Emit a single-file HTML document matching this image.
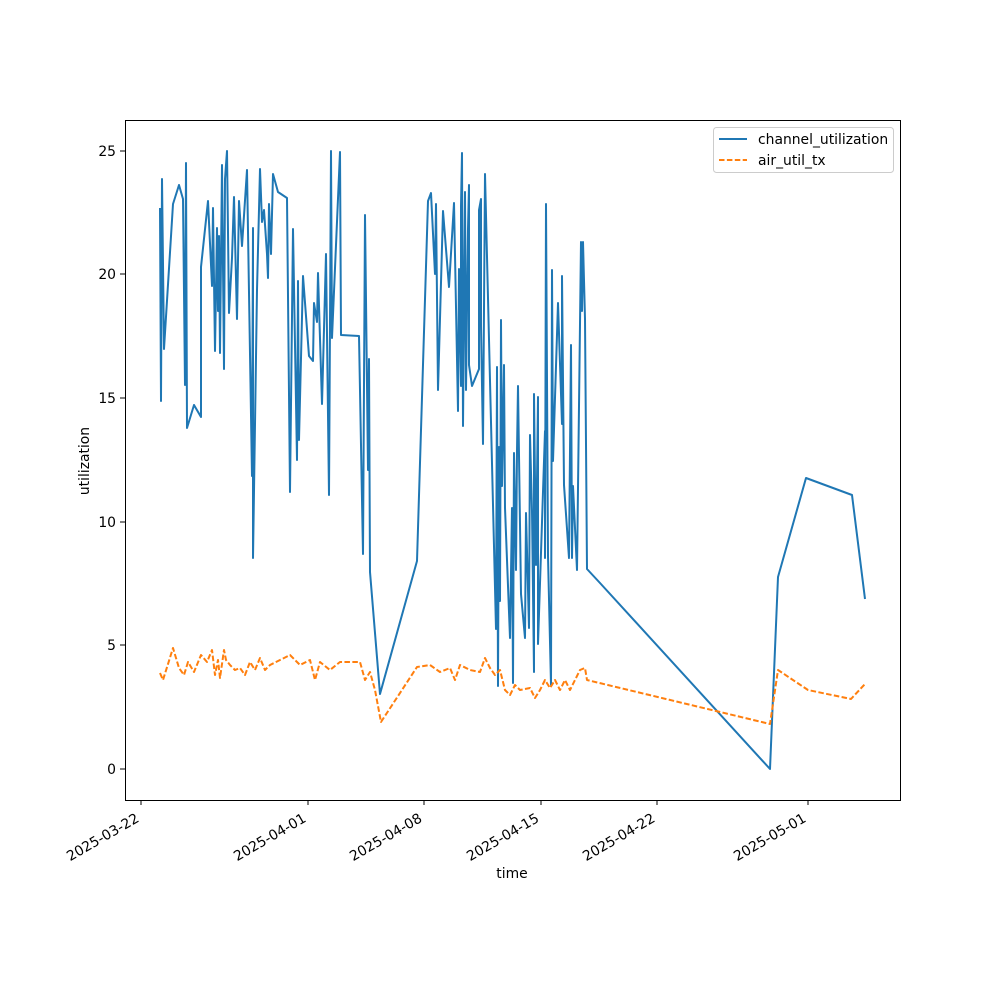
<!DOCTYPE html>
<html><head><meta charset="utf-8"><style>body{margin:0;background:#fff}svg{display:block}text{font-family:"DejaVu Sans","Liberation Sans",sans-serif;font-size:13.9px;fill:#000}</style></head><body>
<svg width="1000" height="1000" viewBox="0 0 1000 1000">
<rect width="1000" height="1000" fill="#fff"/>
<polyline fill="none" stroke="#1f77b4" stroke-width="2" stroke-linejoin="round" points="160,208 161,401 162,179 164,349 173,204 179,185 183,199 185,385 186,163 187,428 194,405 201,417 201,267 208,201 212,286 213,208 215,351 217,228 218,311 219,236 220,353 222,165 224,369 225,179 227,151 229,313 232,258 234,197 237,319 239,201 242,246 247,170 252,476 253,228 253,558 257,290 260,169 262,222 264,210 267,254 268,278 269,204 271,254 273,174 278,192 287,198 290,492 293,229 297,460 298,281 299,440 303,276 309,356 313,361 314,303 317,322 318,273 322,404 326,254 329,495 331,151 332,338 340,152 341,335 359,336 363,554 365,215 368,470 369,359 370,572 380,694 417,561 428,201 431,193 435,274 436,204 438,390 443,211 449,287 454,203 458,411 459,269 461,386 461,206 462,153 463,426 465,192 466,390 468,229 469,185 469,365 472,386 479,369 479,210 481,199 481,326 483,444 485,174 496,629 497,367 498,686 499,447 500,601 501,320 502,486 504,365 505,508 510,638 512,508 513,683 514,453 516,570 517,451 518,386 521,594 525,638 526,513 529,628 530,435 532,511 534,672 534,394 536,565 538,397 538,644 545,431 545,558 546,204 548,556 551,685 552,270 553,461 558,303 562,424 562,276 564,485 569,558 571,345 572,558 573,486 577,570 581,242 582,311 583,242 585,319 587,569 600,583 770,769 778,577 806,478 852,495 865,599"/>
<polyline fill="none" stroke="#ff7f0e" stroke-width="2" stroke-dasharray="5.5,2.4" stroke-linejoin="round" points="160,673 163,680 173,648 179,668 184,675 188,662 194,672 201,655 207,662 212,650 215,675 218,660 220,678 224,650 226,660 230,665 235,670 240,668 245,675 250,662 255,670 260,658 265,670 270,665 280,660 290,655 300,665 310,660 315,680 320,662 330,670 340,662 360,662 365,680 370,672 375,690 381,722 417,667 430,665 440,672 450,668 455,680 460,665 470,670 480,672 485,658 490,668 495,675 500,670 505,690 510,695 515,685 520,690 530,688 535,698 540,690 545,680 550,688 555,680 560,690 565,680 570,690 575,680 580,670 585,668 587,680 770,724 778,670 808,690 851,699 865,684"/>
<rect x="125.5" y="120.5" width="775" height="680" fill="none" stroke="#000" stroke-width="1"/>
<g stroke="#000">
<line x1="120" x2="125" y1="769" y2="769"/><line x1="120" x2="125" y1="645" y2="645"/><line x1="120" x2="125" y1="522" y2="522"/><line x1="120" x2="125" y1="398" y2="398"/><line x1="120" x2="125" y1="274" y2="274"/><line x1="120" x2="125" y1="151" y2="151"/>
<line x1="141" x2="141" y1="800" y2="805"/><line x1="308" x2="308" y1="800" y2="805"/><line x1="424" x2="424" y1="800" y2="805"/><line x1="541" x2="541" y1="800" y2="805"/><line x1="657" x2="657" y1="800" y2="805"/><line x1="808" x2="808" y1="800" y2="805"/>
</g>
<g text-anchor="end">
<text x="116" y="774">0</text><text x="116" y="650">5</text><text x="116" y="527">10</text><text x="116" y="403">15</text><text x="116" y="279">20</text><text x="116" y="156">25</text>
<text transform="translate(140,821) rotate(-30)">2025-03-22</text>
<text transform="translate(307,821) rotate(-30)">2025-04-01</text>
<text transform="translate(423,821) rotate(-30)">2025-04-08</text>
<text transform="translate(540,821) rotate(-30)">2025-04-15</text>
<text transform="translate(656,821) rotate(-30)">2025-04-22</text>
<text transform="translate(807,821) rotate(-30)">2025-05-01</text>
</g>
<text x="512" y="878" text-anchor="middle">time</text>
<text transform="translate(89,461) rotate(-90)" text-anchor="middle">utilization</text>
<rect x="713.5" y="127.5" width="180" height="45" rx="3" fill="#fff" stroke="#ccc"/>
<line x1="719" x2="747" y1="139" y2="139" stroke="#1f77b4" stroke-width="2"/>
<line x1="719" x2="747" y1="160" y2="160" stroke="#ff7f0e" stroke-width="2" stroke-dasharray="5.5,2.4"/>
<text x="758" y="144">channel_utilization</text>
<text x="758" y="165">air_util_tx</text>
</svg>
</body></html>
